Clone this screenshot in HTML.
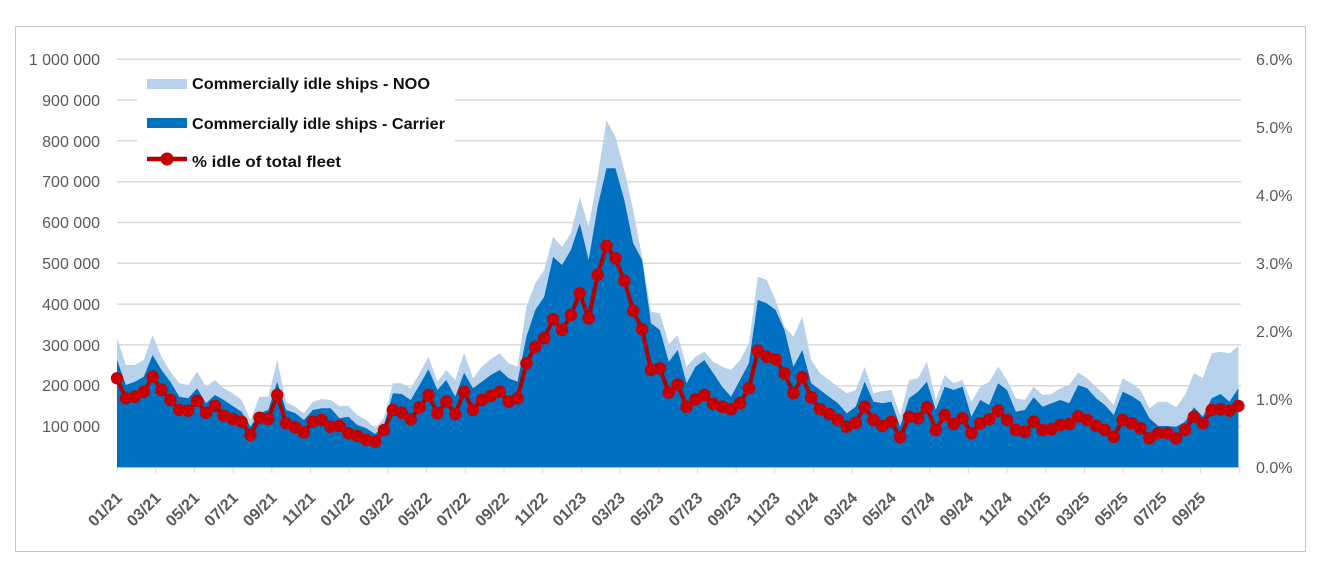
<!DOCTYPE html>
<html><head><meta charset="utf-8"><style>
html,body{margin:0;padding:0;background:#fff;}
svg{display:block;}
text{font-family:"Liberation Sans",Arial,sans-serif;}
</style></head><body>
<svg width="1323" height="577" viewBox="0 0 1323 577" xmlns="http://www.w3.org/2000/svg">
<defs>
<marker id="dot" markerWidth="14" markerHeight="14" refX="7" refY="7" markerUnits="userSpaceOnUse">
<circle cx="7" cy="7" r="6.2" fill="#c60000"/>
</marker>
</defs>
<rect x="0" y="0" width="1323" height="577" fill="#fff"/>
<rect x="15.5" y="26.5" width="1290" height="525" fill="#fff" stroke="#bcc6d6" stroke-width="1"/>
<g stroke="#d9d9d9" stroke-width="1.5">
<line x1="117" y1="59.3" x2="1241" y2="59.3"/>
<line x1="117" y1="100.1" x2="1241" y2="100.1"/>
<line x1="117" y1="140.9" x2="1241" y2="140.9"/>
<line x1="117" y1="181.7" x2="1241" y2="181.7"/>
<line x1="117" y1="222.5" x2="1241" y2="222.5"/>
<line x1="117" y1="263.3" x2="1241" y2="263.3"/>
<line x1="117" y1="304.1" x2="1241" y2="304.1"/>
<line x1="117" y1="344.9" x2="1241" y2="344.9"/>
<line x1="117" y1="385.7" x2="1241" y2="385.7"/>
<line x1="117" y1="426.5" x2="1241" y2="426.5"/>
<line x1="117" y1="467.3" x2="1241" y2="467.3"/>
</g>
<g stroke="#d9d9d9" stroke-width="1">
<line x1="117" y1="467" x2="117" y2="473"/><line x1="155.7" y1="467" x2="155.7" y2="473"/><line x1="194.4" y1="467" x2="194.4" y2="473"/><line x1="233.1" y1="467" x2="233.1" y2="473"/><line x1="271.8" y1="467" x2="271.8" y2="473"/><line x1="310.5" y1="467" x2="310.5" y2="473"/><line x1="349.2" y1="467" x2="349.2" y2="473"/><line x1="387.9" y1="467" x2="387.9" y2="473"/><line x1="426.6" y1="467" x2="426.6" y2="473"/><line x1="465.3" y1="467" x2="465.3" y2="473"/><line x1="504" y1="467" x2="504" y2="473"/><line x1="542.7" y1="467" x2="542.7" y2="473"/><line x1="581.4" y1="467" x2="581.4" y2="473"/><line x1="620.1" y1="467" x2="620.1" y2="473"/><line x1="658.8" y1="467" x2="658.8" y2="473"/><line x1="697.5" y1="467" x2="697.5" y2="473"/><line x1="736.2" y1="467" x2="736.2" y2="473"/><line x1="774.9" y1="467" x2="774.9" y2="473"/><line x1="813.6" y1="467" x2="813.6" y2="473"/><line x1="852.3" y1="467" x2="852.3" y2="473"/><line x1="891" y1="467" x2="891" y2="473"/><line x1="929.7" y1="467" x2="929.7" y2="473"/><line x1="968.4" y1="467" x2="968.4" y2="473"/><line x1="1007.1" y1="467" x2="1007.1" y2="473"/><line x1="1045.8" y1="467" x2="1045.8" y2="473"/><line x1="1084.5" y1="467" x2="1084.5" y2="473"/><line x1="1123.2" y1="467" x2="1123.2" y2="473"/><line x1="1161.9" y1="467" x2="1161.9" y2="473"/><line x1="1200.6" y1="467" x2="1200.6" y2="473"/><line x1="1239.3" y1="467" x2="1239.3" y2="473"/>
</g>
<path fill="#b8d2ec" d="M117,467.3 L117,338.3 125.9,365 134.8,365 143.7,360 152.6,335 161.5,356.7 170.4,371.7 179.3,383.3 188.2,385 197.1,371.7 206,386.7 214.9,380 223.8,388.3 232.7,393.3 241.6,400 250.5,420 259.4,396.7 268.3,396.7 277.2,360 286.1,401.7 295,406.7 303.9,413.3 312.8,401.7 321.7,399 330.6,400 339.5,406 348.4,406 357.3,415 366.2,420 375.1,428 384,418 392.9,383.3 401.8,383.3 410.7,388.3 419.6,373.3 428.5,356.7 437.4,381.7 446.3,370 455.2,380 464.1,352.7 473,378.3 481.9,366.7 490.8,359.3 499.7,353.3 508.6,363.3 517.5,366.7 526.4,306.7 535.3,283.3 544.2,270 553.1,236.7 562,246.7 570.9,233.3 579.8,197.3 588.7,226.7 597.6,176.7 606.5,120 615.4,136.7 624.3,170 633.2,210 642.1,256.7 651,311.7 659.9,313.3 668.8,344 677.7,335 686.6,366.7 695.5,356.7 704.4,351.7 713.3,361.7 722.2,366.7 731.1,370 740,360 748.9,343.3 757.8,276.7 766.7,280 775.6,300 784.5,326.7 793.4,336.7 802.3,316.7 811.2,360 820.1,373.3 829,380 837.9,386.7 846.8,393.3 855.7,390 864.6,366.7 873.5,393.3 882.4,391 891.3,390 900.2,415 909.1,380 918,378.3 926.9,361.7 935.8,400 944.7,375 953.6,383.3 962.5,380 971.4,401.7 980.3,386.7 989.2,381.7 998.1,366.7 1007,380 1015.9,398.3 1024.8,400 1033.7,386.7 1042.6,395 1051.5,394 1060.4,388.3 1069.3,385 1078.2,372.5 1087.1,378.3 1096,386.7 1104.9,395 1113.8,405 1122.7,378.3 1131.6,383.3 1140.5,390 1149.4,408.3 1158.3,401.7 1167.2,401.7 1176.1,407.3 1185,395 1193.9,373.3 1202.8,378.3 1211.7,353.3 1220.6,351.7 1229.5,353.3 1238.4,346 L1238.4,467.3 Z"/>
<path fill="#0070c0" d="M117,467.3 L117,360 125.9,385 134.8,381.7 143.7,376.7 152.6,355 161.5,370 170.4,381.7 179.3,396.7 188.2,398.3 197.1,388.3 206,403.3 214.9,395 223.8,400 232.7,406 241.6,411.7 250.5,426.7 259.4,413 268.3,410 277.2,381.7 286.1,410 295,413 303.9,420 312.8,410 321.7,408.3 330.6,408.3 339.5,418.3 348.4,416.7 357.3,425 366.2,428.3 375.1,434 384,425 392.9,393.3 401.8,394 410.7,400 419.6,385 428.5,369.3 437.4,390 446.3,380 455.2,396.7 464.1,372.7 473,388.3 481.9,381.7 490.8,375 499.7,370 508.6,378.3 517.5,381.7 526.4,336.7 535.3,310 544.2,296.7 553.1,256.7 562,265 570.9,250 579.8,223.3 588.7,260 597.6,206.7 606.5,168.3 615.4,168.3 624.3,200 633.2,243.3 642.1,260 651,323.3 659.9,330 668.8,361.7 677.7,350 686.6,383.3 695.5,366.7 704.4,360 713.3,373.3 722.2,386.7 731.1,396.7 740,380 748.9,363.3 757.8,300 766.7,303.3 775.6,310 784.5,330 793.4,366.7 802.3,350 811.2,383.3 820.1,390 829,396.7 837.9,403.3 846.8,413.3 855.7,406.7 864.6,381.7 873.5,401.7 882.4,403.3 891.3,401.7 900.2,426.7 909.1,398.3 918,391.7 926.9,381.7 935.8,410 944.7,386.7 953.6,390 962.5,386.7 971.4,416.7 980.3,400 989.2,405 998.1,383.3 1007,390 1015.9,411.7 1024.8,410 1033.7,397.3 1042.6,406.7 1051.5,403.3 1060.4,400 1069.3,403.3 1078.2,385 1087.1,388.3 1096,398.3 1104.9,405 1113.8,415 1122.7,391.7 1131.6,396 1140.5,401.7 1149.4,418.3 1158.3,426 1167.2,426 1176.1,426.7 1185,421.7 1193.9,407.3 1202.8,416.7 1211.7,398.3 1220.6,394 1229.5,401.7 1238.4,388.3 L1238.4,467.3 Z"/>
<polyline fill="none" stroke="#b00000" stroke-width="4" stroke-linejoin="round" marker-start="url(#dot)" marker-mid="url(#dot)" marker-end="url(#dot)" points="117,378.3 125.9,398.3 134.8,396.7 143.7,391.7 152.6,376.7 161.5,390 170.4,400 179.3,410 188.2,410.7 197.1,400.7 206,412.7 214.9,406 223.8,415.7 232.7,419 241.6,421.7 250.5,435 259.4,417.7 268.3,419 277.2,395 286.1,423.3 295,427.3 303.9,432.5 312.8,421.7 321.7,420 330.6,426.7 339.5,426 348.4,433.3 357.3,436 366.2,440 375.1,441.7 384,430 392.9,410 401.8,412.7 410.7,419.3 419.6,407.3 428.5,395 437.4,413.3 446.3,401.7 455.2,414 464.1,391.7 473,410 481.9,400 490.8,396 499.7,391.7 508.6,401.7 517.5,398.3 526.4,363.3 535.3,346.7 544.2,338.3 553.1,319.3 562,330 570.9,315 579.8,293.3 588.7,318.3 597.6,275 606.5,246 615.4,258.3 624.3,280.7 633.2,310.7 642.1,329.3 651,370 659.9,368.3 668.8,392.5 677.7,384.5 686.6,406.7 695.5,399.3 704.4,395 713.3,404 722.2,406.7 731.1,409.3 740,403.3 748.9,388.3 757.8,350.7 766.7,356.7 775.6,359.3 784.5,373.3 793.4,393.3 802.3,377.3 811.2,397.3 820.1,409.3 829,414 837.9,420 846.8,426.7 855.7,422.7 864.6,406.7 873.5,420 882.4,426 891.3,421.7 900.2,437.3 909.1,416.7 918,418.3 926.9,407.3 935.8,430 944.7,415 953.6,424 962.5,418.3 971.4,433.3 980.3,423.3 989.2,419.3 998.1,410.7 1007,420 1015.9,430 1024.8,431.7 1033.7,421.7 1042.6,430 1051.5,429.3 1060.4,425 1069.3,424 1078.2,416.5 1087.1,420 1096,426 1104.9,430 1113.8,436.7 1122.7,420 1131.6,423.3 1140.5,428.3 1149.4,438.3 1158.3,433.3 1167.2,433.3 1176.1,438.3 1185,430 1193.9,416.7 1202.8,423.3 1211.7,410 1220.6,409.3 1229.5,410.7 1238.4,406"/>
<g font-size="16" fill="#595959" text-anchor="end">
<text x="100" y="65">1 000 000</text>
<text x="100" y="106">900 000</text>
<text x="100" y="147">800 000</text>
<text x="100" y="187">700 000</text>
<text x="100" y="228">600 000</text>
<text x="100" y="269">500 000</text>
<text x="100" y="310">400 000</text>
<text x="100" y="351">300 000</text>
<text x="100" y="391">200 000</text>
<text x="100" y="432">100 000</text>
</g>
<g font-size="16" fill="#595959" text-anchor="start">
<text x="1256" y="65">6.0%</text>
<text x="1256" y="133">5.0%</text>
<text x="1256" y="201">4.0%</text>
<text x="1256" y="269">3.0%</text>
<text x="1256" y="337">2.0%</text>
<text x="1256" y="405">1.0%</text>
<text x="1256" y="473">0.0%</text>
</g>
<g font-size="16" font-weight="bold" fill="#595959" text-anchor="end">
<text transform="translate(123,499) rotate(-45)">01/21</text>
<text transform="translate(161.7,499) rotate(-45)">03/21</text>
<text transform="translate(200.4,499) rotate(-45)">05/21</text>
<text transform="translate(239.1,499) rotate(-45)">07/21</text>
<text transform="translate(277.8,499) rotate(-45)">09/21</text>
<text transform="translate(316.5,499) rotate(-45)">11/21</text>
<text transform="translate(355.2,499) rotate(-45)">01/22</text>
<text transform="translate(393.9,499) rotate(-45)">03/22</text>
<text transform="translate(432.6,499) rotate(-45)">05/22</text>
<text transform="translate(471.3,499) rotate(-45)">07/22</text>
<text transform="translate(510,499) rotate(-45)">09/22</text>
<text transform="translate(548.7,499) rotate(-45)">11/22</text>
<text transform="translate(587.4,499) rotate(-45)">01/23</text>
<text transform="translate(626.1,499) rotate(-45)">03/23</text>
<text transform="translate(664.8,499) rotate(-45)">05/23</text>
<text transform="translate(703.5,499) rotate(-45)">07/23</text>
<text transform="translate(742.2,499) rotate(-45)">09/23</text>
<text transform="translate(780.9,499) rotate(-45)">11/23</text>
<text transform="translate(819.6,499) rotate(-45)">01/24</text>
<text transform="translate(858.3,499) rotate(-45)">03/24</text>
<text transform="translate(897,499) rotate(-45)">05/24</text>
<text transform="translate(935.7,499) rotate(-45)">07/24</text>
<text transform="translate(974.4,499) rotate(-45)">09/24</text>
<text transform="translate(1013.1,499) rotate(-45)">11/24</text>
<text transform="translate(1051.8,499) rotate(-45)">01/25</text>
<text transform="translate(1090.5,499) rotate(-45)">03/25</text>
<text transform="translate(1129.2,499) rotate(-45)">05/25</text>
<text transform="translate(1167.9,499) rotate(-45)">07/25</text>
<text transform="translate(1206.6,499) rotate(-45)">09/25</text>
</g>
<rect x="137" y="68" width="318" height="104" fill="#fff"/>
<rect x="147" y="79" width="40" height="10" fill="#b8d2ec"/>
<rect x="147" y="118" width="40" height="10" fill="#0070c0"/>
<line x1="147" y1="159" x2="187" y2="159" stroke="#b00000" stroke-width="4.5"/>
<circle cx="167" cy="159" r="6.5" fill="#c60000"/>
<g font-size="16" font-weight="bold" fill="#111">
<text x="192" y="89" textLength="238" lengthAdjust="spacingAndGlyphs">Commercially idle ships - NOO</text>
<text x="192" y="129" textLength="253" lengthAdjust="spacingAndGlyphs">Commercially idle ships - Carrier</text>
<text x="192" y="167" textLength="149" lengthAdjust="spacingAndGlyphs">% idle of total fleet</text>
</g>
</svg>
</body></html>
